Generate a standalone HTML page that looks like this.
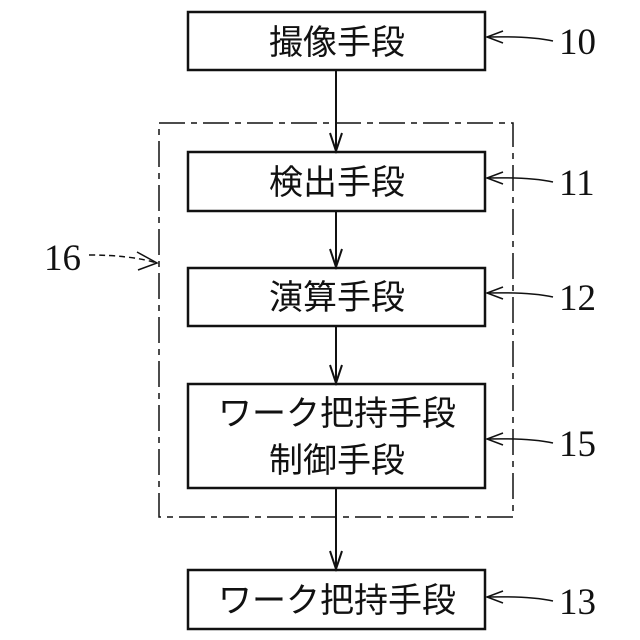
<!DOCTYPE html>
<html><head><meta charset="utf-8"><style>
html,body{margin:0;padding:0;background:#fff}
svg{display:block}
.t{font-family:"Liberation Sans","Noto Sans CJK JP",sans-serif;font-size:34px;fill:#111;text-anchor:middle}
.n{font-family:"Liberation Serif",serif;font-size:37px;fill:#111}
</style></head><body>
<svg width="640" height="640" viewBox="0 0 640 640" xmlns="http://www.w3.org/2000/svg">
<g fill="none" stroke="#111">
<rect x="159" y="123" width="354" height="394" stroke-width="1.5" stroke-dasharray="26,6,6,6"/>
<rect x="188" y="12" width="297" height="58" stroke-width="2.5" fill="#fff"/>
<rect x="188" y="152" width="297" height="59" stroke-width="2.5" fill="#fff"/>
<rect x="188" y="268" width="297" height="58" stroke-width="2.5" fill="#fff"/>
<rect x="188" y="384" width="297" height="104" stroke-width="2.5" fill="#fff"/>
<rect x="188" y="570" width="297" height="59" stroke-width="2.5" fill="#fff"/>
<g stroke-width="2">
<line x1="336" y1="70" x2="336" y2="151"/><polyline points="330,133 336,151 342,133"/>
<line x1="336" y1="211" x2="336" y2="267"/><polyline points="330,249 336,267 342,249"/>
<line x1="336" y1="326" x2="336" y2="383"/><polyline points="330,365 336,383 342,365"/>
<line x1="336" y1="488" x2="336" y2="569"/><polyline points="330,551 336,569 342,551"/>
</g>
<g stroke-width="1.5">
<path d="M553,41 Q530,36 487,37"/><polyline points="503,31 487,37 503,43"/>
<path d="M553,182 Q530,177 487,178"/><polyline points="503,172 487,178 503,184"/>
<path d="M553,297 Q530,292 487,293"/><polyline points="503,287 487,293 503,299"/>
<path d="M553,443 Q530,438 487,439"/><polyline points="503,433 487,439 503,445"/>
<path d="M553,601 Q530,596 487,597"/><polyline points="503,591 487,597 503,603"/>
<path d="M89,255 Q130,255 157,263" stroke-dasharray="6,4"/><polyline points="137,252 157,263 138,270"/>
</g>
</g>
<text class="t" x="337" y="54">撮像手段</text>
<text class="t" x="337" y="194">検出手段</text>
<text class="t" x="337" y="309">演算手段</text>
<text class="t" x="337" y="425">ワーク把持手段</text>
<text class="t" x="337" y="472">制御手段</text>
<text class="t" x="337" y="612">ワーク把持手段</text>
<text class="n" x="559" y="54">10</text>
<text class="n" x="559" y="195">11</text>
<text class="n" x="559" y="310">12</text>
<text class="n" x="559" y="456">15</text>
<text class="n" x="559" y="614">13</text>
<text class="n" x="44" y="270">16</text>
</svg>
</body></html>
